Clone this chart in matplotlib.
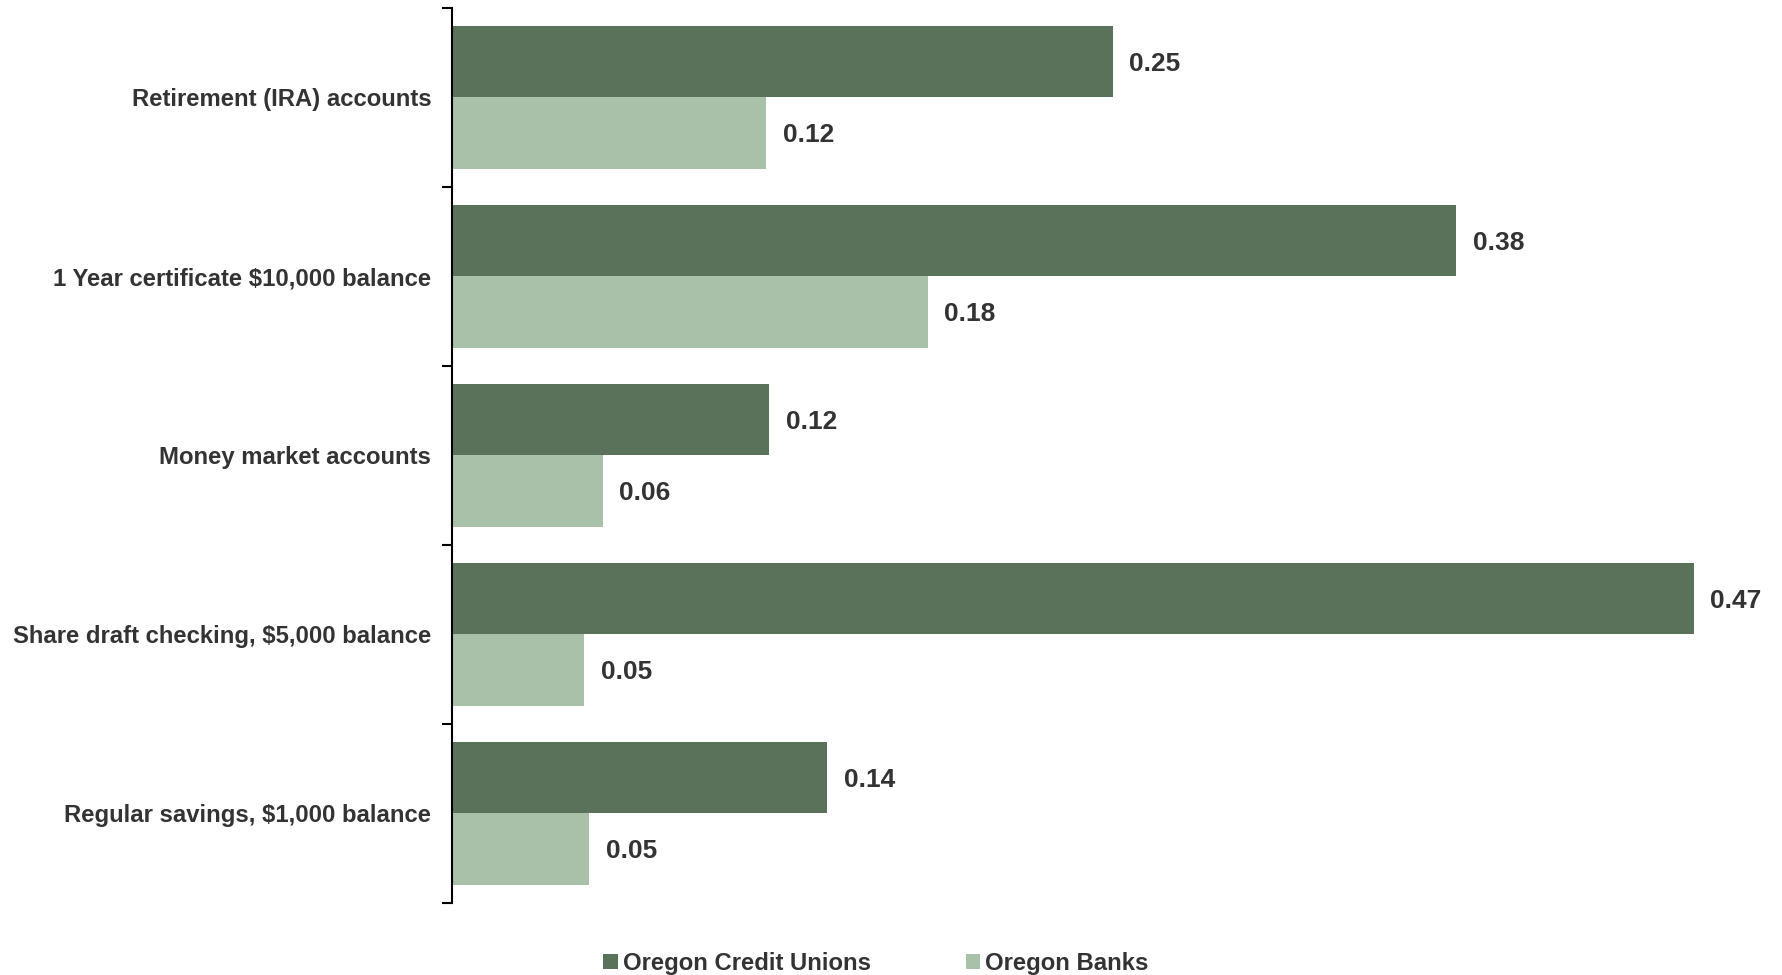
import matplotlib
matplotlib.use("Agg")
import matplotlib.pyplot as plt
import numpy as np

plt.rcParams["font.family"] = ["Liberation Sans", "DejaVu Sans"]

# categories top -> bottom
categories = [
    "Retirement (IRA) accounts",
    "1 Year certificate $10,000 balance",
    "Money market accounts",
    "Share draft checking, $5,000 balance",
    "Regular savings, $1,000 balance",
]
credit_unions = [0.25, 0.38, 0.12, 0.47, 0.142]
banks = [0.119, 0.18, 0.057, 0.05, 0.052]
cu_labels = ["0.25", "0.38", "0.12", "0.47", "0.14"]
bank_labels = ["0.12", "0.18", "0.06", "0.05", "0.05"]

cu_color = "#5A7259"
bank_color = "#A9C1A8"
text_color = "#333333"

fig = plt.figure(figsize=(17.82, 9.75), dpi=100)
ax = fig.add_axes([0.2537, 0.074, 0.7413, 0.918])

y = np.arange(len(categories))
h = 0.40
b1 = ax.barh(y - h / 2, credit_unions, height=h, color=cu_color, label="Oregon Credit Unions")
b2 = ax.barh(y + h / 2, banks, height=h, color=bank_color, label="Oregon Banks")

for bars, labels in ((b1, cu_labels), (b2, bank_labels)):
    for rect, lbl in zip(bars, labels):
        ax.annotate(lbl, (rect.get_width(), rect.get_y() + rect.get_height() / 2),
                    xytext=(12, -1.5), textcoords="offset points",
                    ha="left", va="center", fontsize=19, fontweight="bold",
                    color=text_color)

ax.set_xlim(0, 0.5)
ax.set_ylim(len(categories) - 0.5, -0.5)
ax.set_yticks(np.arange(len(categories) + 1) - 0.5, minor=False)
ax.set_yticklabels([])
ax.set_yticks(y, minor=True)
ax.set_yticklabels(categories, minor=True)
ax.tick_params(axis="y", which="minor", length=0, pad=15, labelsize=17.2,
               labelcolor=text_color)
for t in ax.get_yticklabels(minor=True):
    t.set_fontweight("bold")
ax.tick_params(axis="y", which="major", length=7, width=1.5, color="black")
ax.set_xticks([])

for s in ("top", "right", "bottom"):
    ax.spines[s].set_visible(False)
ax.spines["left"].set_linewidth(1.5)
ax.spines["left"].set_color("black")

leg = fig.legend(handles=[b1, b2], loc="center", bbox_to_anchor=(0.4916, 0.012),
                 ncol=2, frameon=False, fontsize=17.2, handlelength=0.6,
                 handleheight=0.6, handletextpad=0.2, columnspacing=4.0,
                 borderpad=0)
for t in leg.get_texts():
    t.set_fontweight("bold")
    t.set_color(text_color)

fig.savefig("out.png", dpi=100)
